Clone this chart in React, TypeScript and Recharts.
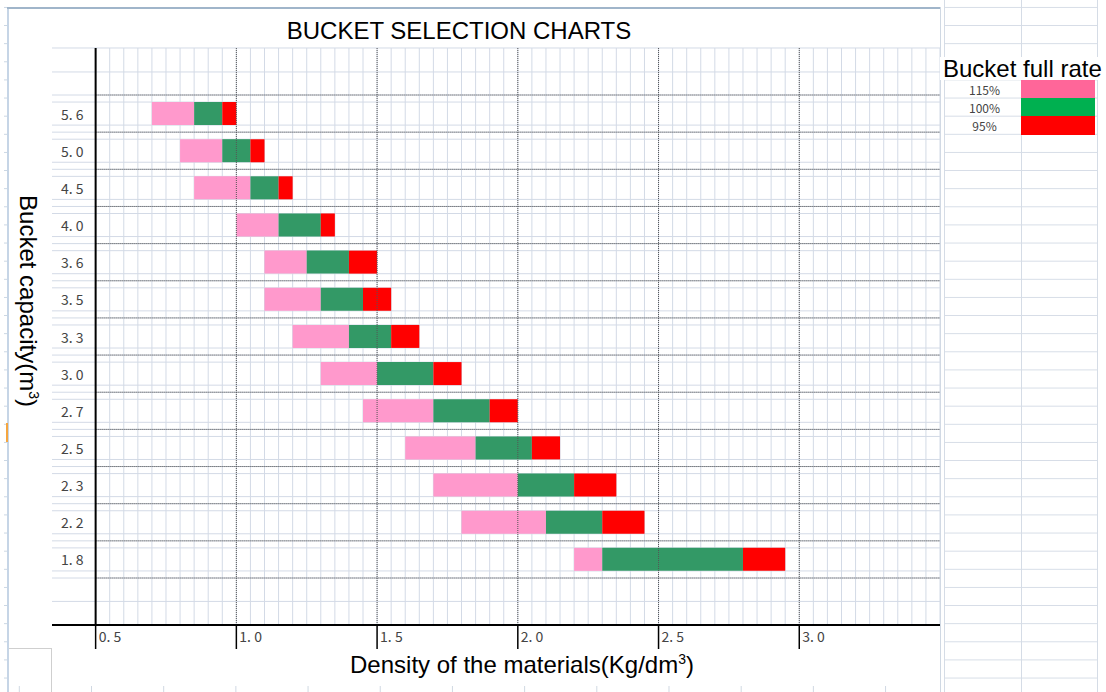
import React from 'react';
import { BarChart, Bar, XAxis, YAxis, CartesianGrid, ReferenceLine, Legend } from 'recharts';

// ---------- data ----------
const capacities = ['5.6', '5.0', '4.5', '4.0', '3.6', '3.5', '3.3', '3.0', '2.7', '2.5', '2.3', '2.2', '1.8'];
const capacityLabels = ['5. 6', '5. 0', '4. 5', '4. 0', '3. 6', '3. 5', '3. 3', '3. 0', '2. 7', '2. 5', '2. 3', '2. 2', '1. 8'];
// density ranges (Kg/dm3) for each bucket fill rate
const rate115From = [0.70, 0.80, 0.85, 1.00, 1.10, 1.10, 1.20, 1.30, 1.45, 1.60, 1.70, 1.80, 2.20];
const rate100From = [0.85, 0.95, 1.05, 1.15, 1.25, 1.30, 1.40, 1.50, 1.70, 1.85, 2.00, 2.10, 2.30];
const rate95From = [0.95, 1.05, 1.15, 1.30, 1.40, 1.45, 1.55, 1.70, 1.90, 2.05, 2.20, 2.30, 2.80];
const rate95To = [1.00, 1.10, 1.20, 1.35, 1.50, 1.55, 1.65, 1.80, 2.00, 2.15, 2.35, 2.45, 2.95];

const xTicks = [0.5, 1.0, 1.5, 2.0, 2.5, 3.0];
const xTickLabels = ['0. 5', '1. 0', '1. 5', '2. 0', '2. 5', '3. 0'];
const majorLines = [1.0, 1.5, 2.0, 2.5, 3.0];

const legendLabels = ['115%', '100%', '95%'];
const legendColors = ['#FF6699', '#00B050', '#FF0000'];
const barColors = ['#FF99CC', '#339966', '#FF0000'];

const data = capacities.map((cap, i) => ({
  cap,
  base: rate115From[i],
  r115: rate100From[i] - rate115From[i],
  r100: rate95From[i] - rate100From[i],
  r95: rate95To[i] - rate95From[i],
}));

// ---------- layout ----------
const W = 1106;
const H = 692;
const PLOT_TOP = 48;
const CAT_PAD = 47;
const N = capacities.length;
const X_MIN = 0.345;
const X_MAX = 3.5;

const SANS = '"Liberation Sans", Arial, sans-serif';
const JP = '"Noto Sans CJK JP", "DejaVu Sans", sans-serif';

const minorTicks: number[] = [];
for (let i = 0; i <= 60; i++) minorTicks.push(Math.round((0.5 + i * 0.05) * 100) / 100);

// light spreadsheet rows, in band units counted from the top category boundary
const lightRows: number[] = [-CAT_PAD / 37.15, -0.62, 0, 0.19];
for (let k = 1; k < N; k++) lightRows.push(k - 0.19, k, k + 0.19);
lightRows.push(N - 0.19, N, N + 0.63);

const verticalGen = (props: any) => {
  const { xAxis, offset } = props;
  const sc = xAxis && typeof xAxis.scale === 'function' ? xAxis.scale : null;
  return minorTicks.map((v) =>
    sc ? sc(v) : offset.left + ((v - X_MIN) / (X_MAX - X_MIN)) * offset.width,
  );
};

const horizontalGen = (props: any) => {
  const { offset } = props;
  const band = (offset.height - 2 * CAT_PAD) / N;
  const top = offset.top + CAT_PAD;
  return lightRows.map((u) => top + u * band);
};

const renderXTick = (props: any) => {
  const { x, y, payload } = props;
  const i = xTicks.indexOf(payload.value);
  return (
    <text x={x + 3} y={y - 7} fontFamily={JP} fontSize={14} fill="#444">
      {xTickLabels[i]}
    </text>
  );
};

const renderYTick = (props: any) => {
  const { x, y, payload } = props;
  const i = capacities.indexOf(payload.value);
  return (
    <text x={x + 9} y={y + 6} fontFamily={JP} fontSize={14} fill="#444">
      {capacityLabels[i]}
    </text>
  );
};

const renderLegend = () => (
  <div style={{ width: 166, fontFamily: SANS }}>
    <div style={{ fontSize: 24, lineHeight: '23px', background: '#fff', paddingLeft: 3, whiteSpace: 'nowrap', color: '#000' }}>
      Bucket full rate
    </div>
    {legendLabels.map((l, i) => (
      <div key={l} style={{ display: 'flex', height: 18.2, alignItems: 'center' }}>
        <span style={{ marginLeft: 8, width: 73, textAlign: 'center', fontFamily: JP, fontSize: 12, color: '#444' }}>{l}</span>
        <span style={{ width: 74, height: '100%', background: legendColors[i] }} />
      </div>
    ))}
  </div>
);

const abs = (s: React.CSSProperties): React.CSSProperties => ({ position: 'absolute', ...s });

export default function App() {
  return (
    <div style={abs({ left: 0, top: 0, width: W, height: H, background: '#fff', overflow: 'hidden' })}>
      {/* spreadsheet background decorations */}
      <div
        style={abs({
          left: 944, top: 0, width: 152, height: H,
          backgroundImage: 'linear-gradient(to bottom, transparent 17.1px, #d5dce6 17.1px)',
          backgroundSize: '100% 18.125px',
          backgroundPosition: '0 7.9px',
          borderLeft: '1px solid #d5dce6',
          borderRight: '1px solid #d5dce6',
        })}
      />
      <div style={abs({ left: 1021, top: 0, width: 1, height: H, background: '#d5dce6' })} />
      <div
        style={abs({
          left: 4, top: 0, width: 3, height: H,
          backgroundImage: 'linear-gradient(to bottom, transparent 17.1px, #c9d5e2 17.1px)',
          backgroundSize: '100% 18.125px',
          backgroundPosition: '0 7.9px',
        })}
      />
      <div style={abs({ left: 7, top: 7, width: 2, height: H, background: '#c6d5e6' })} />
      <div style={abs({ left: 6, top: 423, width: 2, height: 19, background: '#f5a640' })} />
      <div style={abs({ left: 7, top: 7, width: 934, height: 2, background: '#a0b5ca' })} />
      <div style={abs({ left: 940, top: 7, width: 1, height: H, background: '#cfd8e3' })} />
      <div
        style={abs({
          left: 9, top: 686, width: 931, height: 6,
          backgroundImage: 'linear-gradient(to right, transparent 71.2px, #d0d8e2 71.2px)',
          backgroundSize: '72.2px 100%',
          backgroundPosition: '10.8px 0',
        })}
      />
      <div style={abs({ left: 9, top: 648, width: 42, height: 44, borderTop: '1px solid #cfcfcf', borderRight: '1px solid #cfcfcf' })} />

      <div style={abs({ left: 0, top: 0 })}>
        <BarChart
          width={W}
          height={H}
          data={data}
          layout="vertical"
          margin={{ top: PLOT_TOP, right: W - 940, bottom: 27, left: 8 }}
          barSize={23}
        >
          <CartesianGrid
            stroke="#d3dae6"
            strokeWidth={1}
            verticalCoordinatesGenerator={verticalGen}
            horizontalCoordinatesGenerator={horizontalGen}
          />
          <XAxis
            type="number"
            domain={[X_MIN, X_MAX]}
            ticks={xTicks}
            interval={0}
            allowDataOverflow
            height={40}
            axisLine={{ stroke: '#000', strokeWidth: 2 }}
            tickLine={{ stroke: '#000', strokeWidth: 1.5 }}
            tickSize={24}
            tickMargin={0}
            tick={renderXTick}
          />
          <YAxis
            type="category"
            dataKey="cap"
            width={44}
            padding={{ top: CAT_PAD, bottom: CAT_PAD }}
            axisLine={false}
            tickLine={false}
            tickSize={0}
            tickMargin={0}
            interval={0}
            tick={renderYTick}
          />
          <Bar dataKey="base" stackId="s" fill="transparent" isAnimationActive={false} legendType="none" />
          <Bar dataKey="r115" stackId="s" fill={barColors[0]} isAnimationActive={false} />
          <Bar dataKey="r100" stackId="s" fill={barColors[1]} isAnimationActive={false} />
          <Bar dataKey="r95" stackId="s" fill={barColors[2]} isAnimationActive={false} />
          {capacities.map((cap) => (
            <ReferenceLine
              key={'b' + cap}
              segment={[{ x: 0.5, y: cap }, { x: X_MAX, y: cap }]}
              position="start"
              stroke="#444"
              strokeDasharray="1 1"
            />
          ))}
          <ReferenceLine
            segment={[{ x: 0.5, y: capacities[N - 1] }, { x: X_MAX, y: capacities[N - 1] }]}
            position="end"
            stroke="#444"
            strokeDasharray="1 1"
          />
          {majorLines.map((v) => (
            <ReferenceLine key={'m' + v} x={v} stroke="#555" strokeDasharray="1 1" />
          ))}
          <ReferenceLine x={0.5} stroke="#000" strokeWidth={2} />
          <Legend
            content={renderLegend}
            layout="horizontal"
            verticalAlign="middle"
            align="center"
            wrapperStyle={{ position: 'absolute', left: 940, top: 57, width: 166, height: 80 }}
          />
          <text x={459} y={39} textAnchor="middle" fontFamily={SANS} fontSize={24} fill="#000">
            BUCKET SELECTION CHARTS
          </text>
          <text x={522} y={673} textAnchor="middle" fontFamily={SANS} fontSize={24} fill="#000">
            Density of the materials(Kg/dm<tspan dy={-9} fontSize={14}>3</tspan><tspan dy={9}>)</tspan>
          </text>
          <text
            x={20}
            y={301}
            transform="rotate(90 20 301)"
            textAnchor="middle"
            fontFamily={SANS}
            fontSize={24}
            fill="#000"
          >
            Bucket capacity(m<tspan dy={-9} fontSize={14}>3</tspan><tspan dy={9}>)</tspan>
          </text>
        </BarChart>
      </div>
    </div>
  );
}
